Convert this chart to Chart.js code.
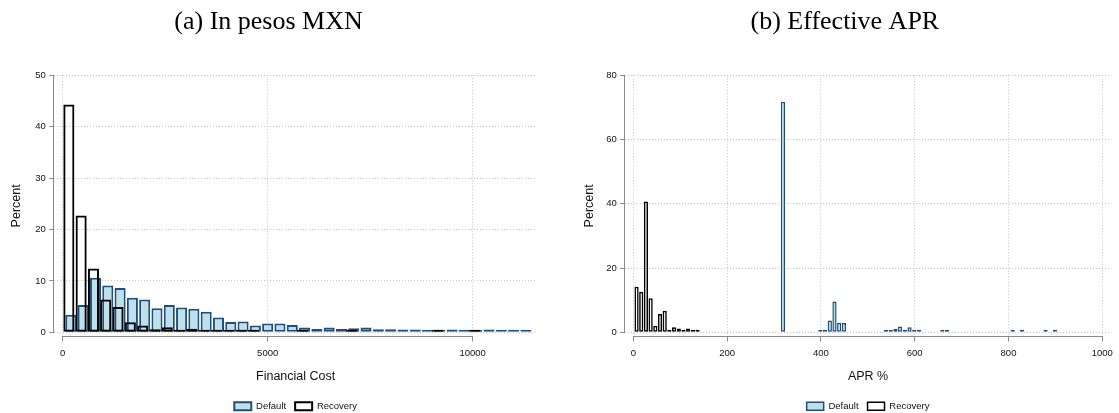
<!DOCTYPE html>
<html>
<head>
<meta charset="utf-8">
<script src="https://cdn.jsdelivr.net/npm/chart.js@4.4.1/dist/chart.umd.min.js"></script>
<style>
  html, body { margin: 0; padding: 0; background: #fff; overflow: hidden; }
  #wrap { position: relative; width: 1119px; height: 413px; overflow: hidden; }
  .panel { position: absolute; top: 0; }
  #panelCost { left: 0; }
  #panelApr { left: 577px; }
</style>
</head>
<body>
<div id="wrap">
  <div class="panel" id="panelCost"><canvas id="costChart" width="545" height="421"></canvas></div>
  <div class="panel" id="panelApr"><canvas id="aprChart" width="542" height="421"></canvas></div>
</div>
<script>
// ---- Financial cost in MXN: bin midpoints and percent of loans per bin ----
const costDefaultMid = [200, 500, 800, 1100, 1400, 1700, 2000, 2300, 2600, 2900, 3200, 3500, 3800,
  4100, 4400, 4700, 5000, 5300, 5600, 5900, 6200, 6500, 6800, 7100, 7400, 7700, 8000, 8300, 8600,
  8900, 9200, 9500, 9800, 10100, 10400, 10700, 11000, 11300];
const costDefaultPct = [3.4, 5.3, 10.6, 9.1, 8.6, 6.7, 6.4, 4.7, 5.3, 4.8, 4.6, 4.0, 2.9,
  2.0, 2.1, 1.3, 1.7, 1.7, 1.4, 0.95, 0.65, 0.95, 0.65, 0.8, 0.95, 0.6, 0.6, 0.55, 0.55,
  0.4, 0.3, 0.55, 0.4, 0.4, 0.55, 0.3, 0.3, 0.25];
const costRecoveryMid = [150, 450, 750, 1050, 1350, 1650, 1950, 2250, 2550, 2850, 3150, 3450,
  3750, 4050, 4350, 4650, 5850, 7050, 9150, 10050];
const costRecoveryPct = [44.3, 22.7, 12.4, 6.4, 4.9, 1.95, 1.3, 0.6, 1.0, 0.2, 0.7, 0.15,
  0.2, 0.25, 0.2, 0.2, 0.2, 0.25, 0.25, 0.25];
const costTicksX = [0, 5000, 10000];
const costTicksY = [0, 10, 20, 30, 40, 50];

// ---- Effective APR (%): bin midpoints and percent of loans per bin ----
const aprDefaultMid = [319, 399, 409, 419, 429, 439, 449, 539, 549, 559, 569, 579, 589, 599,
  609, 659, 669, 809, 829, 879, 899];
const aprDefaultPct = [71.8, 0.3, 0.25, 3.7, 9.6, 3.0, 2.9, 0.3, 0.3, 1.1, 1.8, 0.4, 1.6, 0.4,
  0.3, 0.3, 0.3, 0.3, 0.3, 0.3, 0.3];
const aprRecoveryMid = [7, 17, 27, 37, 47, 57, 67, 77, 87, 97, 107, 117, 127, 137];
const aprRecoveryPct = [14.2, 12.6, 40.7, 10.6, 2.0, 5.7, 6.7, 0.6, 1.55, 1.2, 0.6, 1.2, 0.5, 0.2];
const aprTicksX = [0, 200, 400, 600, 800, 1000];
const aprTicksY = [0, 20, 40, 60, 80];

const seriesNames = ['Default', 'Recovery'];

// ---- shared styling ----
const SANS = "'Liberation Sans', Arial, Helvetica, sans-serif";
const SERIF = "'Liberation Serif', 'Times New Roman', serif";
const TEXT = '#111';
const AXIS = '#8a8a8a';
const GRID = '#c4c4c4';
const FILL_DEFAULT = '#bfe0ea';
const LINE_DEFAULT = '#1f4e78';

// Axis lines run only between the first and last tick, as in the original graph style
const axisLines = {
  id: 'axisLines',
  afterDraw(chart) {
    const { ctx, chartArea, scales } = chart;
    const x = scales.x, y = scales.y;
    const xt = x.ticks, yt = y.ticks;
    ctx.save();
    ctx.strokeStyle = AXIS;
    ctx.lineWidth = 1;
    ctx.beginPath();
    const yb = Math.round(chartArea.bottom) + 0.5;
    ctx.moveTo(x.getPixelForValue(xt[0].value), yb);
    ctx.lineTo(x.getPixelForValue(xt[xt.length - 1].value), yb);
    const xl = Math.round(chartArea.left) - 0.5;
    ctx.moveTo(xl, y.getPixelForValue(yt[0].value));
    ctx.lineTo(xl, y.getPixelForValue(yt[yt.length - 1].value));
    ctx.stroke();
    ctx.restore();
  }
};

// Legend is centred under the plot region rather than the whole canvas
const centerLegend = {
  id: 'centerLegend',
  afterLayout(chart) {
    const lg = chart.legend;
    if (!lg) return;
    const mid = (chart.chartArea.left + chart.chartArea.right) / 2;
    const shift = mid - (lg.left + lg.right) / 2;
    lg.left += shift;
    lg.right += shift;
  }
};

function histogram(canvasId, o) {
  const pts = (xs, ys) => xs.map((x, i) => ({ x: x, y: ys[i] }));
  const fixTicks = (vals) => (scale) => { scale.ticks = vals.map(v => ({ value: v })); };
  const gridOpts = { color: GRID, lineWidth: 1, tickLength: 5, tickColor: AXIS, tickWidth: 1, offset: false };
  const borderOpts = { display: false, dash: [1, 2] };

  return new Chart(document.getElementById(canvasId), {
    type: 'bar',
    data: {
      datasets: [
        {
          label: seriesNames[0],
          data: pts(o.defMid, o.defPct),
          xAxisID: 'x',
          backgroundColor: FILL_DEFAULT,
          borderColor: LINE_DEFAULT,
          borderWidth: o.lw,
          order: 1
        },
        {
          // outline-only bars drawn above the filled ones
          label: seriesNames[1],
          data: pts(o.recMid, o.recPct),
          xAxisID: 'x2',
          backgroundColor: 'rgba(255,255,255,0)',
          borderColor: '#000',
          borderWidth: o.lw,
          order: 0
        }
      ]
    },
    options: {
      responsive: false,
      animation: false,
      devicePixelRatio: 1,
      layout: { padding: { left: 0, right: o.padRight, top: 0, bottom: 0 } },
      datasets: {
        bar: {
          grouped: false,
          categoryPercentage: 1,
          barPercentage: 0.9,
          borderSkipped: false,
          minBarLength: o.minLen
        }
      },
      scales: {
        x: {
          type: 'linear',
          offset: false,
          min: o.xMin, max: o.xMax,
          afterBuildTicks: fixTicks(o.xTicks),
          afterFit: (s) => { s.height = 56.1; },
          grid: gridOpts,
          border: borderOpts,
          ticks: {
            font: { family: SANS, size: 9.5 }, color: TEXT, padding: 6,
            maxRotation: 0, autoSkip: false, callback: (v) => String(v)
          },
          title: {
            display: true, text: o.xTitle, color: TEXT,
            font: { family: SANS, size: 12.5 }, padding: { top: 0, bottom: 8 }
          }
        },
        x2: {
          type: 'linear',
          display: false,
          offset: false,
          min: o.xMin, max: o.xMax,
          afterBuildTicks: fixTicks(o.xTicks),
          grid: { offset: false }
        },
        y: {
          min: o.yMin, max: o.yMax,
          afterBuildTicks: fixTicks(o.yTicks),
          afterFit: (s) => { s.width = o.yWidth; },
          grid: gridOpts,
          border: borderOpts,
          ticks: { font: { family: SANS, size: 9.5 }, color: TEXT, padding: 3.6, callback: (v) => String(v) },
          title: {
            display: true, text: 'Percent', color: TEXT,
            font: { family: SANS, size: 12.5 }, padding: { top: o.yTitlePad, bottom: 0 }
          }
        }
      },
      plugins: {
        title: {
          display: true, text: o.title, color: '#000',
          font: { family: SERIF, size: 26, weight: 'normal' },
          padding: { top: 6.3, bottom: 37.8 }
        },
        legend: {
          position: 'bottom',
          labels: {
            boxWidth: 17, boxHeight: 8, padding: 9,
            color: TEXT, font: { family: SANS, size: 9.5 },
            sort: (a, b) => a.datasetIndex - b.datasetIndex
          }
        },
        tooltip: { enabled: false }
      }
    },
    plugins: [axisLines, centerLegend]
  });
}

histogram('costChart', {
  title: '(a) In pesos MXN',
  xTitle: 'Financial Cost',
  defMid: costDefaultMid, defPct: costDefaultPct,
  recMid: costRecoveryMid, recPct: costRecoveryPct,
  xTicks: costTicksX, yTicks: costTicksY,
  xMin: -205, xMax: 11570, yMin: -0.8, yMax: 50,
  yWidth: 54.3, yTitlePad: 9.5, padRight: 8,
  lw: 2, minLen: 2.5
});

histogram('aprChart', {
  title: '(b) Effective APR',
  xTitle: 'APR %',
  defMid: aprDefaultMid, defPct: aprDefaultPct,
  recMid: aprRecoveryMid, recPct: aprRecoveryPct,
  xTicks: aprTicksX, yTicks: aprTicksY,
  xMin: -17, xMax: 1018, yMin: -1.28, yMax: 80,
  yWidth: 48.3, yTitlePad: 5.5, padRight: 6.3,
  lw: 1.5, minLen: 2.5
});
</script>
</body>
</html>
